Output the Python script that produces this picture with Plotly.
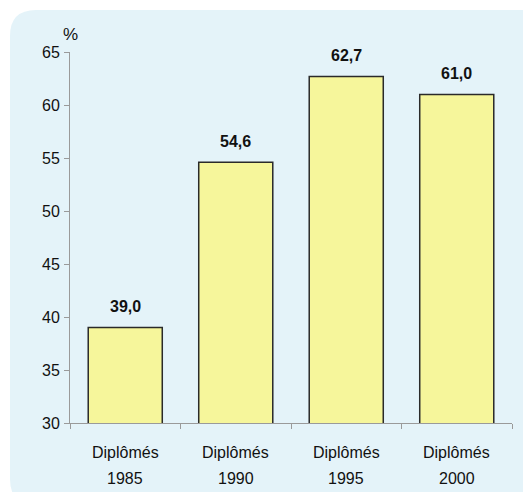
import plotly.graph_objects as go

categories = ["1985", "1990", "1995", "2000"]
category_prefix = "Diplômés"
values = [39.0, 54.6, 62.7, 61.0]
value_labels = ["39,0", "54,6", "62,7", "61,0"]
y_ticks = [30, 35, 40, 45, 50, 55, 60, 65]

W, H = 531, 492
OFF = 8  # page body margin
ML, MT = 70 - OFF, 52 - OFF
PW, PH = 442, 371
MR, MB = W - ML - PW, H - MT - PH

def px_x(px):
    return (px - OFF - ML) / PW

def px_y(py):
    return (MT + PH - (py - OFF)) / PH

FONT = "Liberation Sans, Arial, sans-serif"

fig = go.Figure()
fig.add_trace(go.Bar(
    x=categories, y=values, base=0,
    marker=dict(color="#f6f69b", line=dict(color="#2a2a2a", width=1.5)),
    width=0.67, hoverinfo="skip",
))

# rounded background panel (page pixel coordinates)
x0, x1, y0, y1, r = 10, 545, 10, 505, 26
path = (
    f"M {px_x(x0 + r)},{px_y(y0)} L {px_x(x1)},{px_y(y0)} L {px_x(x1)},{px_y(y1)} "
    f"L {px_x(x0 + r)},{px_y(y1)} Q {px_x(x0)},{px_y(y1)} {px_x(x0)},{px_y(y1 - r)} "
    f"L {px_x(x0)},{px_y(y0 + r)} Q {px_x(x0)},{px_y(y0)} {px_x(x0 + r)},{px_y(y0)} Z"
)
shapes = [dict(type="path", path=path, xref="paper", yref="paper",
               fillcolor="#e4f3f9", line=dict(width=0), layer="below")]

annotations = []
for i, (c, v, t) in enumerate(zip(categories, values, value_labels)):
    annotations.append(dict(x=i, y=v, xref="x", yref="y", text=f"<b>{t}</b>",
                            showarrow=False, yanchor="middle", yshift=21,
                            font=dict(family=FONT, size=16, color="#111")))
    annotations.append(dict(x=i, y=0, xref="x", yref="paper", text=category_prefix,
                            showarrow=False, yanchor="middle", yshift=-29,
                            font=dict(family=FONT, size=16, color="#111")))
    annotations.append(dict(x=i, y=0, xref="x", yref="paper", text=c,
                            showarrow=False, yanchor="middle", yshift=-55,
                            font=dict(family=FONT, size=16, color="#111")))
annotations.append(dict(x=px_x(70), y=px_y(34), xref="paper", yref="paper", text="%",
                        showarrow=False, xanchor="center", yanchor="middle",
                        font=dict(family=FONT, size=17, color="#111")))

fig.update_layout(
    width=W, height=H,
    margin=dict(l=ML, r=MR, t=MT, b=MB, pad=0),
    paper_bgcolor="white", plot_bgcolor="rgba(0,0,0,0)",
    showlegend=False, shapes=shapes, annotations=annotations,
    font=dict(family=FONT, size=16, color="#111"),
    xaxis=dict(type="category", range=[-0.5, 3.5], showgrid=False, zeroline=False,
               showline=True, linecolor="#9a9a9a", linewidth=1,
               ticks="outside", tickson="boundaries", ticklen=5, tickcolor="#9a9a9a",
               showticklabels=False),
    yaxis=dict(range=[30, 65], tickvals=y_ticks, showgrid=False, zeroline=False,
               showline=True, linecolor="#9a9a9a", linewidth=1,
               ticks="outside", ticklen=5, tickcolor="#9a9a9a",
               tickfont=dict(family=FONT, size=16, color="#111"), ticklabelstandoff=1),
)

fig.write_html("out.html")
